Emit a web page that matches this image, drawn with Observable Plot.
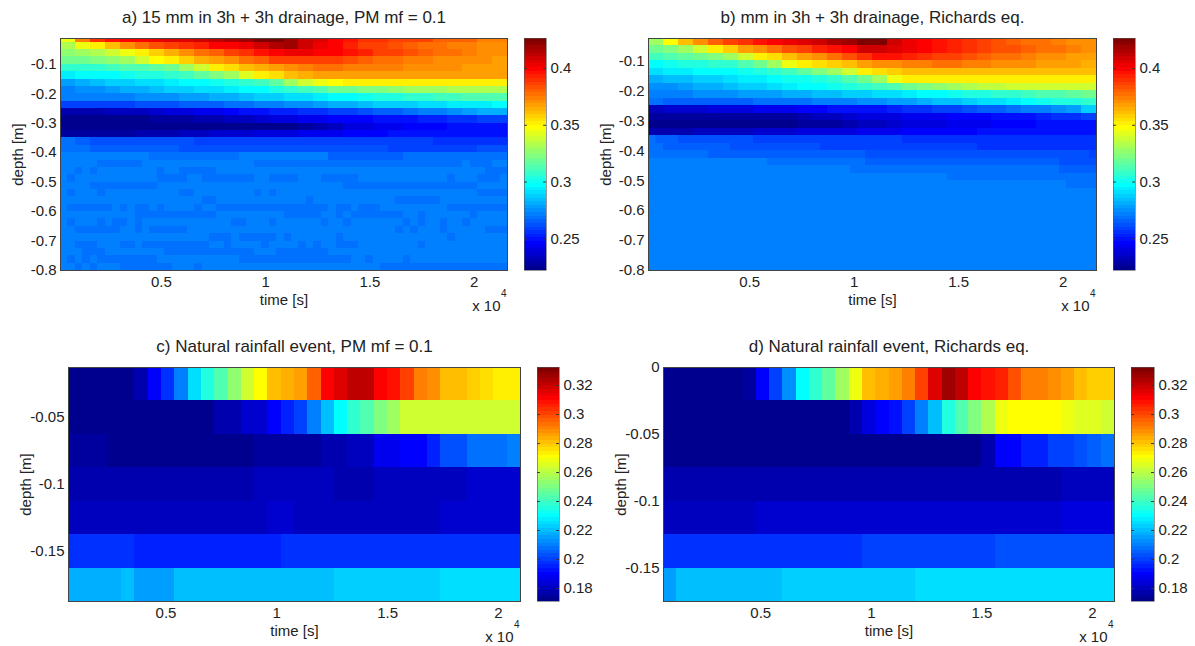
<!DOCTYPE html>
<html><head><meta charset="utf-8">
<script src="https://cdn.jsdelivr.net/npm/d3@7"></script>
<script src="https://cdn.jsdelivr.net/npm/@observablehq/plot@0.6"></script>
<style>html,body{margin:0;background:#fff}#c{position:relative;width:1195px;height:646px;overflow:hidden}</style>
</head><body><div id="c"></div>
<script>
// ---------- tick labels ----------
const timeTicks = [5000, 10000, 15000, 20000];
const depthTicksAB = [-0.1, -0.2, -0.3, -0.4, -0.5, -0.6, -0.7, -0.8];
const depthTicksC = [-0.05, -0.1, -0.15];
const depthTicksD = [0, -0.05, -0.1, -0.15];
const barTicksAB = [0.25, 0.3, 0.35, 0.4];
const barTicksCD = [0.18, 0.2, 0.22, 0.24, 0.26, 0.28, 0.3, 0.32];

// ---------- depth edges of the rows ----------
const depthEdgesA = [-0.0125,-0.025,-0.05,-0.075,-0.1,-0.125,-0.15,-0.175,-0.2,-0.225,-0.25,-0.275,-0.3,-0.325,-0.35,-0.375,-0.4,-0.425,-0.45,-0.475,-0.5,-0.525,-0.55,-0.575,-0.6,-0.625,-0.65,-0.675,-0.7,-0.725,-0.75,-0.775,-0.8];
const depthEdgesB = [-0.025,-0.05,-0.075,-0.1,-0.125,-0.15,-0.175,-0.2,-0.225,-0.25,-0.275,-0.3,-0.325,-0.35,-0.375,-0.4,-0.425,-0.45,-0.475,-0.5,-0.525,-0.55,-0.575,-0.6,-0.625,-0.65,-0.675,-0.7,-0.725,-0.75,-0.775,-0.8];
const depthEdgesC = [-0.0125,-0.0375,-0.0625,-0.0875,-0.1125,-0.1375,-0.1625,-0.1875];
const depthEdgesD = [0,-0.025,-0.05,-0.075,-0.1,-0.125,-0.15,-0.175];

// ---------- panel a: water content, upper rows (30 time steps each) ----------
const a00=[.345,.375,.39,.395,.40,.40,.402,.405,.405,.41,.412,.415,.418,.425,.425,.42,.41,.405,.40,.395,.39,.39,.388,.385,.385,.38,.38,.38,.375,.375];
const a01=[.332,.345,.352,.362,.372,.378,.382,.386,.39,.394,.398,.40,.403,.408,.415,.42,.41,.403,.398,.392,.388,.385,.382,.38,.378,.376,.375,.374,.372,.37];
const a02=[.325,.328,.332,.338,.345,.35,.358,.365,.372,.376,.38,.385,.39,.395,.40,.402,.402,.40,.398,.395,.392,.388,.385,.382,.38,.378,.376,.374,.372,.37];
const a03=[.318,.32,.322,.325,.33,.338,.348,.352,.358,.365,.368,.372,.376,.38,.385,.388,.388,.388,.386,.384,.38,.378,.376,.375,.374,.372,.372,.37,.37,.368];
const a04=[.306,.307,.308,.31,.312,.314,.316,.32,.328,.34,.35,.354,.36,.364,.368,.372,.375,.376,.376,.375,.374,.374,.373,.372,.37,.37,.37,.368,.368,.368];
const a05=[.295,.296,.297,.298,.30,.302,.305,.308,.31,.315,.322,.33,.342,.35,.355,.36,.365,.367,.367,.367,.367,.367,.367,.367,.366,.366,.366,.366,.366,.366];
const a06=[.277,.28,.283,.286,.288,.29,.292,.295,.296,.298,.30,.303,.306,.31,.316,.33,.34,.345,.348,.35,.35,.35,.35,.35,.35,.35,.35,.35,.35,.35];
const a07=[.272,.274,.276,.278,.28,.282,.284,.286,.288,.29,.292,.294,.296,.298,.302,.306,.31,.314,.318,.32,.322,.324,.326,.328,.33,.33,.332,.332,.333,.333];
const a08=[.27,.27,.271,.272,.273,.274,.275,.276,.278,.279,.28,.282,.284,.286,.288,.29,.292,.294,.296,.298,.30,.302,.304,.306,.308,.31,.31,.312,.312,.312];
const a09=[.258,.258,.259,.26,.26,.261,.262,.263,.264,.265,.266,.267,.268,.27,.272,.274,.276,.278,.28,.282,.284,.286,.287,.288,.29,.292,.293,.294,.295,.296];
const a10=[.229,.23,.231,.232,.233,.234,.236,.238,.24,.242,.244,.246,.248,.25,.252,.253,.254,.256,.258,.26,.262,.264,.266,.268,.27,.273,.276,.278,.28,.282];
const a11=[.224,.224,.224,.224,.225,.225,.226,.227,.228,.229,.23,.232,.234,.236,.238,.24,.242,.244,.245,.246,.247,.248,.249,.25,.252,.253,.255,.256,.258,.26];
const a12=[.224,.224,.223,.223,.222,.222,.222,.222,.223,.223,.223,.223,.224,.224,.224,.225,.226,.23,.234,.238,.24,.242,.244,.245,.246,.247,.248,.249,.25,.25];
const a13=[.226,.226,.227,.227,.228,.229,.23,.231,.232,.234,.235,.236,.237,.238,.24,.241,.242,.243,.244,.245,.246,.247,.248,.249,.25,.25,.25,.25,.25,.25];
const a14=[.268,.264,.262,.262,.262,.262,.262,.262,.262,.26,.26,.26,.26,.26,.258,.258,.258,.258,.258,.258,.258,.258,.258,.258,.258,.256,.256,.256,.256,.256];
const a15=[.268,.268,.265,.265,.265,.265,.265,.265,.262,.262,.262,.262,.262,.262,.262,.262,.262,.262,.262,.262,.262,.262,.259,.259,.259,.259,.259,.259,.262,.262];
const a16=[.272,.272,.272,.272,.272,.272,.268,.268,.268,.268,.268,.268,.272,.272,.272,.272,.272,.272,.265,.265,.265,.265,.265,.268,.268,.268,.268,.268,.268,.268];
const aUpper=[a00,a01,a02,a03,a04,a05,a06,a07,a08,a09,a10,a11,a12,a13,a14,a15,a16];

// panel a, lower rows: a flat level with slightly drier patches, given as [first, end) columns of 60
const aBase=.272, aPatch=.268;
const aPatches=[
[[5,11],[26,54],[55,58]],
[[2,3],[4,5],[13,14],[16,21],[57,60]],
[[1,2],[13,17],[19,26],[28,32],[35,40],[52,53],[56,59]],
[[4,13],[38,56]],
[[1,2],[5,6],[16,18],[26,27],[28,29],[56,60]],
[[19,21],[33,34],[45,51]],
[[1,7],[8,9],[10,11],[11,12],[13,14],[18,19],[21,36],[37,39],[40,43],[52,60]],
[[10,21],[30,35],[37,38],[39,46],[48,49],[55,56]],
[[1,2],[5,6],[7,9],[10,11],[23,25],[28,29],[35,36],[38,39],[46,47],[48,49],[51,52],[54,55]],
[[2,8],[10,11],[12,17],[45,46],[47,48],[51,52],[57,60]],
[[20,23],[24,29],[30,31],[37,38],[52,53]],
[[2,5],[8,10],[11,20],[22,23],[27,28],[32,33],[34,35],[37,40],[48,49]],
[[3,6],[14,26],[29,36]],
[[1,2],[3,4],[5,13],[24,39],[41,42],[46,47]],
[[2,3],[4,5],[8,15],[18,19],[43,60]]
];

// ---------- panel b ----------
const b00=[.33,.348,.36,.372,.38,.386,.39,.395,.40,.403,.406,.41,.415,.42,.425,.425,.41,.402,.40,.396,.392,.39,.386,.384,.38,.378,.376,.374,.372,.37];
const b01=[.318,.322,.328,.338,.35,.358,.366,.372,.378,.384,.388,.392,.396,.40,.408,.408,.405,.402,.398,.395,.392,.39,.388,.384,.382,.38,.378,.376,.374,.372];
const b02=[.31,.312,.315,.318,.322,.33,.338,.35,.355,.36,.366,.372,.378,.384,.39,.395,.395,.392,.39,.388,.386,.382,.38,.378,.376,.374,.372,.37,.368,.366];
const b03=[.298,.3,.302,.304,.306,.308,.312,.32,.33,.345,.35,.354,.358,.362,.366,.37,.372,.374,.375,.376,.376,.375,.374,.372,.371,.37,.368,.367,.366,.365];
const b04=[.292,.293,.294,.296,.297,.298,.3,.302,.306,.31,.315,.322,.33,.34,.35,.355,.358,.36,.36,.36,.36,.36,.36,.36,.36,.36,.36,.36,.36,.36];
const b05=[.282,.283,.285,.287,.289,.291,.293,.295,.297,.299,.301,.304,.308,.314,.32,.33,.345,.35,.352,.352,.353,.353,.353,.353,.353,.352,.352,.352,.352,.352];
const b06=[.275,.276,.278,.28,.282,.284,.286,.288,.29,.293,.296,.298,.3,.303,.306,.31,.314,.318,.322,.326,.33,.332,.335,.337,.338,.34,.34,.34,.34,.34];
const b07=[.272,.273,.273,.274,.275,.276,.277,.278,.279,.28,.282,.284,.285,.287,.288,.29,.292,.294,.296,.298,.3,.302,.304,.306,.308,.31,.312,.314,.316,.318];
const b08=[.268,.266,.265,.265,.265,.266,.266,.267,.267,.268,.269,.27,.271,.272,.274,.275,.277,.279,.281,.283,.285,.287,.29,.292,.295,.298,.3,.302,.304,.306];
const b09=[.234,.235,.236,.237,.238,.239,.24,.242,.243,.244,.246,.247,.248,.249,.25,.25,.252,.254,.256,.258,.26,.262,.264,.266,.268,.27,.272,.274,.278,.288];
const b10=[.226,.226,.226,.226,.226,.226,.226,.226,.227,.228,.23,.232,.234,.236,.238,.24,.241,.242,.243,.244,.245,.246,.247,.248,.249,.25,.252,.254,.256,.258];
const b11=[.222,.222,.222,.222,.222,.222,.222,.223,.224,.225,.226,.227,.228,.23,.232,.234,.236,.238,.24,.241,.242,.243,.244,.245,.246,.247,.248,.248,.248,.248];
const b12=[.23,.23,.231,.232,.232,.233,.234,.235,.236,.237,.238,.239,.24,.241,.242,.243,.244,.245,.246,.246,.247,.247,.248,.248,.248,.249,.249,.25,.25,.25];
const bUpper=[b00,b01,b02,b03,b04,b05,b06,b07,b08,b09,b10,b11,b12];
// panel b, lower rows: stepped plateaus as [value, end column of 60]
const bSteps=[
[[.268,1],[.265,4],[.262,14],[.259,34],[.2555,60]],
[[.268,2],[.265,11],[.262,23],[.259,44],[.2555,60]],
[[.268,8],[.265,29],[.262,59],[.259,60]],
[[.272,16],[.268,29],[.265,55],[.262,60]],
[[.272,27],[.268,55],[.265,60]],
[[.272,40],[.268,60]],
[[.272,56],[.268,60]],
[[.272,60]],[[.272,60]],[[.272,60]],[[.272,60]],[[.272,60]],[[.272,60]],[[.272,60]],[[.272,60]],[[.272,60]],[[.272,60]],[[.272,60]]
];

// ---------- panels c and d: 7 rows, 34 time steps ----------
const c0=[.172,.172,.172,.172,.172,.178,.19,.197,.211,.225,.235,.243,.254,.264,.271,.281,.284,.287,.297,.31,.317,.322,.32,.31,.308,.30,.292,.288,.282,.28,.277,.276,.274,.274];
const c1=[.172,.172,.172,.172,.172,.172,.172,.172,.172,.172,.173,.178,.178,.183,.183,.19,.194,.2,.21,.219,.231,.238,.244,.25,.256,.263,.263,.263,.264,.264,.262,.262,.262,.262];
const c2=[.174,.174,.174,.172,.172,.172,.172,.172,.172,.173,.171,.171,.171,.171,.175,.175,.175,.175,.175,.177,.177,.181,.181,.188,.188,.19,.19,.195,.203,.203,.208,.208,.208,.21];
const c3=[.178,.178,.178,.178,.178,.178,.178,.178,.178,.178,.178,.178,.178,.178,.179,.179,.179,.179,.179,.179,.177,.177,.177,.179,.179,.179,.18,.18,.181,.181,.182,.182,.182,.182];
const c4=[.18,.18,.18,.18,.18,.18,.18,.18,.18,.18,.18,.18,.18,.18,.18,.183,.183,.181,.181,.181,.181,.181,.181,.181,.181,.181,.181,.181,.182,.182,.182,.182,.182,.182];
const c5=[.198,.198,.198,.198,.198,.196,.196,.196,.196,.196,.196,.196,.196,.196,.196,.196,.197,.197,.197,.197,.197,.197,.197,.197,.197,.197,.197,.197,.197,.197,.197,.197,.197,.197];
const c6=[.217,.217,.217,.217,.219,.216,.216,.216,.22,.22,.22,.22,.22,.22,.22,.22,.22,.22,.22,.22,.222,.222,.222,.222,.222,.222,.222,.222,.224,.224,.224,.224,.224,.224];
const cRows=[c0,c1,c2,c3,c4,c5,c6];
const dr0=[.172,.172,.172,.172,.172,.172,.176,.19,.2,.213,.231,.238,.246,.256,.267,.282,.284,.287,.29,.302,.317,.325,.322,.312,.308,.305,.298,.292,.291,.288,.285,.282,.279,.277];
const dr1=[.172,.172,.172,.172,.172,.172,.172,.172,.172,.172,.172,.173,.173,.173,.178,.184,.19,.192,.2,.21,.219,.236,.244,.25,.258,.267,.271,.271,.271,.271,.269,.266,.265,.263];
const dr2=[.172,.172,.172,.172,.172,.172,.172,.172,.172,.172,.172,.172,.172,.172,.172,.172,.172,.172,.172,.172,.172,.173,.173,.173,.178,.19,.19,.195,.195,.2,.2,.203,.206,.208];
const dr3=[.178,.178,.178,.178,.178,.178,.178,.178,.178,.178,.178,.178,.178,.178,.178,.178,.178,.178,.178,.178,.178,.178,.178,.178,.178,.178,.178,.178,.178,.178,.18,.18,.18,.18];
const dr4=[.179,.179,.179,.179,.179,.179,.179,.183,.183,.183,.183,.183,.183,.183,.183,.183,.183,.183,.183,.183,.183,.183,.183,.183,.183,.183,.183,.183,.183,.183,.186,.186,.186,.186];
const dr5=[.197,.197,.197,.197,.197,.198,.198,.198,.198,.198,.198,.198,.198,.198,.198,.2,.2,.2,.2,.2,.2,.2,.2,.2,.2,.202,.202,.202,.202,.202,.202,.202,.202,.202];
const dr6=[.216,.22,.22,.22,.22,.22,.22,.22,.22,.222,.222,.222,.222,.222,.222,.222,.222,.222,.222,.224,.224,.224,.224,.224,.224,.224,.224,.224,.224,.224,.224,.224,.224,.225];
const dRows=[dr0,dr1,dr2,dr3,dr4,dr5,dr6];

// ---------- assemble rows ----------
const fromPatches = p => { const r = new Array(60).fill(aBase); for (const [s,e] of p) for (let i=s;i<e;i++) r[i]=aPatch; return r; };
const fromSteps = st => { const r=[]; for (const [v,e] of st) while (r.length<e) r.push(v); return r; };
const rowsA = [...aUpper, ...aPatches.map(fromPatches)];
const rowsB = [...bUpper, ...bSteps.map(fromSteps)];

// ---------- jet(64) colour scale ----------
const clamp = v => Math.max(0, Math.min(1, v));
const palette = d3.range(1,65).map(k => { const t=k/64;
  return d3.rgb(255*clamp(1.5-Math.abs(4*t-3)),255*clamp(1.5-Math.abs(4*t-2)),255*clamp(1.5-Math.abs(4*t-1))).formatHex(); });
const colorOf = ([lo,hi]) => ({type:"threshold", domain:d3.range(1,64).map(i=>lo+i*(hi-lo)/64), range:palette});

const FONT = "'Liberation Sans', Arial, sans-serif", INK = "#222", FRAME = "#444";
const host = document.getElementById("c");
const place = (svg,l,t) => { svg.style.position="absolute"; svg.style.left=l+"px"; svg.style.top=t+"px"; svg.style.background="transparent"; svg.style.overflow="visible"; host.appendChild(svg); };

function cells(rows, edges, t0, t1) {
  return rows.flatMap((row,ri) => row.map((v,ci) => ({
    t1: t0+(t1-t0)*ci/row.length, t2: t0+(t1-t0)*(ci+1)/row.length,
    d1: edges[ri], d2: edges[ri+1], v })));
}

const domAB=[0.222,0.4265], domCD=[0.171,0.3325];

function panel({title, rows, edges, time, yTicks, barDomain, L, R, T, B, bar}) {
  const ML=62, MB=46, MT=36;
  const cols = cells(rows, edges, time[0], time[1]);
  place(Plot.plot({
    width: ML+(R-L)+8, height: MT+(B-T)+MB,
    marginLeft: ML, marginRight: 8, marginTop: MT, marginBottom: MB,
    x: {domain: time}, y: {domain: [edges[edges.length-1], edges[0]]},
    color: colorOf(barDomain),
    style: {fontFamily: FONT, fontSize: "15px", color: INK},
    marks: [
      Plot.rect(cols, {x1:"t1", x2:"t2", y1:"d1", y2:"d2", fill:"v", shapeRendering:"crispEdges"}),
      Plot.frame({stroke: FRAME, strokeWidth: 1}),
      Plot.axisX({ticks: timeTicks, tickSize: 0, tickPadding: 6, tickFormat: d => d/1e4,
        label: "time [s]", labelAnchor: "center", labelOffset: 34, labelArrow: "none", fontSize: 15, color: INK}),
      Plot.axisY({ticks: yTicks, tickSize: 0, tickPadding: 4, tickFormat: d => String(d),
        label: "depth [m]", labelAnchor: "center", labelOffset: 48, labelArrow: "none", fontSize: 15, color: INK}),
      Plot.text([title], {text: d=>d, frameAnchor:"top", dy:-21, lineAnchor:"middle", fontSize: 17, fill: INK}),
      Plot.text(["x 10"], {text: d=>d, frameAnchor:"bottom-right", dx:-7, dy:36, lineAnchor:"middle", fontSize: 15, fill: INK}),
      Plot.text(["4"], {text: d=>d, frameAnchor:"bottom-right", dx:-1, dy:23, lineAnchor:"middle", textAnchor:"end", fontSize: 10, fill: INK})
    ]
  }), L-ML, T-MT);

  // colour bar, same scale, one rect per level
  const [lo,hi] = barDomain, step=(hi-lo)/64;
  const levels = d3.range(64).map(i => ({y1: lo+i*step, y2: lo+(i+1)*step, v: lo+(i+.5)*step}));
  const barW = bar[1]-bar[0];
  const ticks = barDomain === domAB ? barTicksAB : barTicksCD;
  place(Plot.plot({
    width: barW+6+44, height: (B-T)+12,
    marginLeft: 6, marginRight: 44, marginTop: 6, marginBottom: 6,
    x: {domain:[0,1], axis:null}, y: {domain: barDomain},
    color: colorOf(barDomain),
    style: {fontFamily: FONT, fontSize: "15px", color: INK},
    marks: [
      Plot.rect(levels, {x1:0, x2:1, y1:"y1", y2:"y2", fill:"v", shapeRendering:"crispEdges"}),
      Plot.ruleY(ticks, {x1:0, x2:.13, stroke:"#333", strokeWidth:1}),
      Plot.ruleY(ticks, {x1:.87, x2:1, stroke:"#333", strokeWidth:1}),
      Plot.axisY({anchor:"right", ticks, tickSize:0, tickPadding:4, tickFormat:d=>String(d), label:null, fontSize:15, color:INK}),
      Plot.frame({stroke:"#555", strokeWidth:.6})
    ]
  }), bar[0]-6, T-6);
}

panel({title:"a) 15 mm in 3h + 3h drainage, PM mf = 0.1", rows:rowsA, edges:depthEdgesA, time:[160,21600], yTicks:depthTicksAB, barDomain:domAB, L:60,R:507,T:38,B:270, bar:[524,546]});
panel({title:"b) mm in 3h + 3h drainage, Richards eq.", rows:rowsB, edges:depthEdgesB, time:[160,21600], yTicks:depthTicksAB, barDomain:domAB, L:648,R:1096,T:38,B:270, bar:[1113,1135]});
panel({title:"c) Natural rainfall event, PM mf = 0.1", rows:cRows, edges:depthEdgesC, time:[600,21000], yTicks:depthTicksC, barDomain:domCD, L:68,R:520,T:367,B:601, bar:[537,559]});
panel({title:"d) Natural rainfall event, Richards eq.", rows:dRows, edges:depthEdgesD, time:[600,21000], yTicks:depthTicksD, barDomain:domCD, L:663,R:1114,T:367,B:601, bar:[1131,1154]});
</script></body></html>
